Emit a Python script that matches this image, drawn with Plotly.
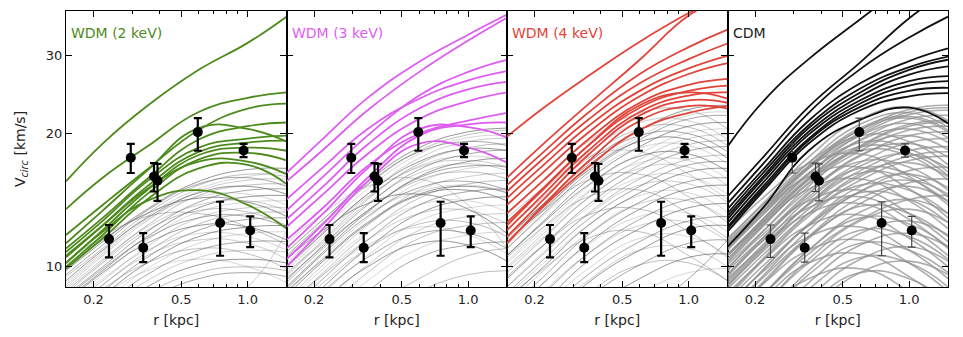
import numpy as np
import plotly.graph_objects as go

# radii (kpc) at which every model curve is sampled
radius = [0.15, 0.22, 0.35, 0.6, 1.0, 1.5]

# observed dwarf: radius, v_circ, upper / lower error
obs_r = [0.235, 0.295, 0.336, 0.376, 0.39, 0.594, 0.75, 0.958, 1.027]
obs_v = [11.55, 17.65, 11.04, 16.0, 15.65, 20.17, 12.56, 18.33, 12.08]
obs_err_hi = [0.88, 1.32, 0.88, 1.16, 1.45, 1.53, 1.47, 0.64, 0.92]
obs_err_lo = [1.05, 1.35, 0.79, 1.20, 1.55, 1.87, 1.97, 0.63, 1.00]

panel_labels = ["WDM (2 keV)", "WDM (3 keV)", "WDM (4 keV)", "CDM"]

wdm2_bright = [
    [15.6, 19.0, 23.1, 27.9, 32.1, 36.8],
    [13.5, 15.9, 18.7, 22.4, 24.1, 24.8],
    [11.8, 13.8, 16.6, 20.4, 22.8, 23.4],
    [11.0, 12.9, 15.8, 19.4, 20.8, 21.2],
    [11.3, 13.4, 16.5, 20.6, 20.5, 19.2],
    [10.8, 12.7, 15.6, 18.6, 19.5, 19.8],
    [10.5, 12.4, 15.2, 18.2, 19.1, 19.3],
    [10.2, 12.1, 14.9, 17.9, 18.6, 18.3],
    [10.0, 11.8, 14.6, 17.5, 18.1, 17.4],
    [10.6, 12.4, 15.0, 17.3, 17.3, 16.2],
    [9.9, 11.6, 14.2, 16.7, 17.0, 15.4],
    [10.2, 12.0, 14.1, 14.9, 13.8, 12.2],
]
wdm2_faint = [
    [9.8, 11.4, 13.5, 15.6, 16.6, 16.7],
    [9.5, 11.0, 13.2, 15.3, 16.2, 16.0],
    [9.2, 10.8, 13.0, 15.0, 16.0, 16.4],
    [9.6, 11.2, 13.4, 15.4, 15.9, 15.2],
    [9.0, 10.6, 12.7, 14.8, 15.7, 15.8],
    [9.3, 10.9, 12.9, 14.7, 15.2, 14.6],
    [8.8, 10.3, 12.4, 14.5, 15.3, 15.4],
    [9.1, 10.7, 12.8, 14.4, 14.6, 13.8],
    [8.6, 10.0, 12.0, 14.0, 14.9, 15.0],
    [8.9, 10.4, 12.3, 13.8, 14.1, 13.4],
    [8.4, 9.8, 11.7, 13.6, 14.4, 14.5],
    [8.7, 10.2, 12.1, 13.4, 13.3, 12.4],
    [8.2, 9.6, 11.5, 13.3, 14.0, 14.1],
    [8.5, 9.9, 11.6, 12.9, 13.0, 12.3],
    [8.0, 9.3, 11.1, 12.9, 13.6, 13.6],
    [8.3, 9.7, 11.3, 12.4, 12.3, 11.5],
    [7.8, 9.1, 10.8, 12.5, 13.2, 13.3],
    [8.1, 9.4, 10.9, 11.9, 11.7, 10.9],
    [7.6, 8.8, 10.5, 12.1, 12.8, 12.9],
    [7.9, 9.1, 10.6, 11.5, 11.3, 10.4],
    [7.4, 8.6, 10.2, 11.7, 12.3, 12.4],
    [7.7, 8.9, 10.2, 11.0, 10.7, 9.9],
    [7.2, 8.3, 9.9, 11.3, 11.9, 12.0],
    [7.0, 8.1, 9.6, 10.9, 11.4, 11.4],
    [6.8, 7.9, 9.3, 10.5, 10.9, 10.8],
    [6.6, 7.6, 9.0, 10.1, 10.4, 10.2],
    [6.4, 7.4, 8.7, 9.7, 10.0, 9.8],
    [7.5, 8.6, 9.8, 10.4, 10.0, 9.2],
    [6.2, 7.2, 8.4, 9.4, 9.7, 9.5],
    [5.5, 6.2, 7.0, 7.8, 9.0, 12.0],
    [9.9, 11.5, 13.2, 14.3, 14.0, 13.0],
    [10.2, 11.7, 13.0, 13.2, 12.3, 11.2],
]

wdm3_bright = [
    [16.3, 19.5, 24.1, 29.1, 33.5, 37.2],
    [15.6, 18.4, 22.6, 27.6, 32.5, 36.6],
    [13.4, 16.0, 19.8, 24.4, 27.6, 29.4],
    [14.2, 16.8, 20.5, 24.0, 26.4, 27.7],
    [12.8, 15.2, 18.9, 22.8, 25.2, 26.2],
    [12.3, 14.6, 18.0, 21.6, 23.7, 24.8],
    [11.5, 13.6, 16.9, 20.0, 21.4, 22.3],
    [11.0, 13.2, 16.7, 20.5, 20.7, 19.6],
    [10.0, 12.2, 15.6, 19.0, 18.6, 17.2],
    [10.4, 12.5, 15.9, 19.8, 21.0, 21.2],
]
wdm3_faint = [
    [10.8, 12.8, 15.6, 18.6, 20.2, 20.6],
    [10.5, 12.5, 15.3, 18.3, 19.9, 20.4],
    [10.2, 12.2, 15.0, 18.0, 19.6, 19.8],
    [10.6, 12.6, 15.4, 18.2, 19.2, 18.8],
    [9.9, 11.9, 14.6, 17.6, 19.2, 19.5],
    [10.0, 11.9, 14.6, 17.3, 18.5, 18.3],
    [9.6, 11.5, 14.2, 17.1, 18.6, 19.0],
    [9.8, 11.7, 14.3, 16.9, 17.8, 17.3],
    [9.3, 11.2, 13.8, 16.6, 18.0, 18.4],
    [9.5, 11.4, 13.9, 16.3, 17.1, 16.5],
    [9.0, 10.8, 13.3, 16.0, 17.3, 17.6],
    [9.2, 11.0, 13.4, 15.7, 16.4, 15.8],
    [8.7, 10.5, 12.9, 15.5, 16.7, 17.0],
    [8.9, 10.7, 13.0, 15.1, 15.6, 14.9],
    [8.4, 10.1, 12.4, 14.9, 16.0, 16.3],
    [8.6, 10.3, 12.5, 14.5, 14.9, 14.1],
    [8.1, 9.7, 11.9, 14.3, 15.4, 15.7],
    [8.3, 9.9, 12.0, 13.8, 14.1, 13.3],
    [7.8, 9.4, 11.5, 13.8, 14.8, 15.0],
    [8.0, 9.6, 11.5, 13.2, 13.4, 12.5],
    [7.5, 9.0, 11.0, 13.2, 14.2, 14.4],
    [7.7, 9.2, 11.0, 12.5, 12.6, 11.7],
    [7.2, 8.7, 10.6, 12.7, 13.6, 13.8],
    [7.4, 8.8, 10.5, 11.9, 11.9, 11.0],
    [6.9, 8.3, 10.1, 12.1, 13.0, 13.2],
    [7.1, 8.4, 10.0, 11.3, 11.2, 10.3],
    [6.6, 7.9, 9.7, 11.6, 12.4, 12.6],
    [6.3, 7.6, 9.3, 11.0, 11.8, 12.0],
    [6.0, 7.2, 8.8, 10.5, 11.2, 11.4],
    [11.3, 13.2, 15.2, 15.8, 13.8, 11.0],
    [10.4, 12.1, 13.9, 14.6, 13.5, 11.9],
    [5.8, 6.8, 8.0, 9.4, 10.6, 11.0],
    [9.7, 11.3, 13.2, 14.8, 15.3, 14.8],
    [9.4, 11.1, 13.4, 15.9, 16.9, 16.8],
    [10.1, 12.0, 14.4, 16.8, 17.4, 16.8],
    [8.8, 10.4, 12.6, 14.6, 15.2, 14.7],
    [5.6, 6.5, 7.6, 8.8, 9.6, 9.8],
    [8.2, 9.6, 11.2, 12.3, 11.8, 10.7],
]

wdm4_bright = [
    [19.7, 22.9, 27.0, 32.3, 37.5, 41.5],
    [15.9, 19.0, 23.3, 29.4, 37.0, 41.0],
    [15.3, 18.2, 22.3, 27.3, 31.4, 34.4],
    [14.8, 17.6, 21.5, 26.0, 29.5, 32.0],
    [14.3, 17.0, 20.8, 25.0, 28.1, 30.0],
    [13.8, 16.4, 20.1, 24.3, 27.3, 28.9],
    [13.2, 15.7, 19.4, 23.5, 25.8, 26.6],
    [12.6, 15.1, 18.8, 22.9, 25.0, 25.7],
    [12.1, 14.6, 18.3, 22.4, 24.4, 24.8],
    [11.7, 14.2, 17.9, 22.0, 23.8, 23.5],
    [11.3, 13.8, 17.3, 21.4, 23.1, 22.8],
    [11.3, 13.7, 16.8, 20.4, 22.3, 23.1],
    [12.4, 15.0, 18.8, 23.2, 24.8, 24.0],
]
wdm4_faint = [
    [11.6, 13.9, 17.2, 20.4, 22.7, 23.2],
    [13.2, 15.7, 19.2, 22.3, 22.6, 20.5],
    [11.2, 13.4, 16.6, 19.7, 22.0, 22.4],
    [11.0, 13.2, 16.3, 19.4, 21.6, 22.0],
    [12.5, 14.9, 18.1, 21.2, 21.4, 19.4],
    [10.6, 12.7, 15.7, 18.7, 20.8, 21.2],
    [12.1, 14.4, 17.6, 20.5, 20.7, 18.8],
    [10.3, 12.3, 15.2, 18.0, 20.1, 20.5],
    [11.7, 13.9, 17.0, 19.8, 20.0, 18.2],
    [10.0, 11.9, 14.7, 17.5, 19.5, 19.9],
    [11.4, 13.5, 16.5, 19.2, 19.4, 17.6],
    [9.7, 11.6, 14.3, 17.0, 18.9, 19.3],
    [11.0, 13.1, 16.0, 18.6, 18.8, 17.1],
    [9.4, 11.2, 13.8, 16.5, 18.3, 18.7],
    [12.9, 15.1, 17.7, 18.2, 16.2, 14.2],
    [10.6, 12.6, 15.3, 17.8, 18.0, 16.4],
    [9.0, 10.7, 13.2, 15.8, 17.5, 17.9],
    [10.2, 12.1, 14.8, 17.2, 17.4, 15.8],
    [8.7, 10.4, 12.8, 15.2, 17.0, 17.3],
    [9.9, 11.7, 14.3, 16.7, 16.8, 15.3],
    [8.4, 10.0, 12.4, 14.7, 16.4, 16.7],
    [11.5, 13.4, 15.7, 16.2, 14.4, 12.6],
    [9.4, 11.2, 13.6, 15.9, 16.0, 14.6],
    [8.0, 9.5, 11.8, 14.0, 15.6, 15.9],
    [9.0, 10.8, 13.1, 15.3, 15.4, 14.0],
    [7.7, 9.2, 11.3, 13.5, 15.0, 15.3],
    [10.5, 12.3, 14.4, 14.9, 13.2, 11.6],
    [8.6, 10.2, 12.4, 14.5, 14.7, 13.3],
    [7.3, 8.7, 10.7, 12.8, 14.2, 14.5],
    [8.2, 9.8, 11.9, 13.9, 14.1, 12.8],
    [7.0, 8.3, 10.3, 12.2, 13.6, 13.9],
    [9.5, 11.2, 13.1, 13.5, 12.0, 10.5],
    [7.7, 9.2, 11.2, 13.0, 13.2, 12.0],
    [6.5, 7.8, 9.6, 11.4, 12.7, 13.0],
    [7.4, 8.8, 10.7, 12.4, 12.6, 11.4],
    [6.2, 7.4, 9.2, 10.9, 12.2, 12.4],
    [8.5, 9.9, 11.6, 12.0, 10.6, 9.3],
    [6.8, 8.1, 9.9, 11.6, 11.7, 10.6],
    [5.8, 6.9, 8.5, 10.1, 11.3, 11.5],
    [6.4, 7.7, 9.3, 10.9, 11.0, 10.0],
    [5.4, 6.4, 7.9, 9.4, 10.5, 10.7],
    [6.0, 7.1, 8.7, 10.1, 10.2, 9.3],
    [5.0, 5.9, 7.3, 8.7, 9.7, 9.9],
    [5.0, 5.6, 6.5, 7.8, 9.4, 11.5],
]

cdm_bright = [
    [18.7, 23.8, 29.5, 36.3, 44.0, 50.0],
    [14.4, 17.8, 23.0, 29.0, 36.5, 42.0],
    [13.9, 17.2, 22.3, 28.0, 33.0, 36.8],
    [13.5, 16.7, 21.4, 26.0, 29.2, 31.2],
    [13.2, 16.4, 20.9, 25.3, 28.3, 29.9],
    [13.0, 16.1, 20.6, 24.8, 27.9, 29.4],
    [12.8, 15.9, 20.2, 24.3, 27.2, 28.4],
    [12.55, 15.6, 19.9, 23.8, 26.3, 27.0],
    [12.3, 15.3, 19.5, 23.4, 25.7, 26.3],
    [12.2, 15.1, 19.3, 23.0, 25.0, 25.4],
    [12.0, 14.9, 19.0, 22.6, 24.3, 24.7],
    [11.1, 13.7, 18.3, 21.5, 22.9, 21.1],
]
cdm_faint = [
    [11.6, 13.9, 17.2, 20.4, 22.7, 23.2],
    [11.5, 14.0, 17.7, 21.6, 23.0, 21.4],
    [11.3, 13.6, 16.7, 19.9, 22.1, 22.6],
    [11.2, 13.6, 17.2, 21.0, 22.3, 20.7],
    [11.0, 13.2, 16.3, 19.4, 21.6, 22.0],
    [10.9, 13.2, 16.7, 20.4, 21.7, 20.2],
    [10.7, 12.8, 15.8, 18.8, 21.0, 21.4],
    [10.6, 12.9, 16.2, 19.8, 21.1, 19.6],
    [10.4, 12.5, 15.4, 18.3, 20.4, 20.8],
    [10.3, 12.5, 15.8, 19.3, 20.5, 19.1],
    [10.1, 12.1, 14.9, 17.8, 19.8, 20.2],
    [11.0, 13.4, 16.8, 19.8, 19.2, 17.0],
    [9.9, 12.1, 15.2, 18.6, 19.8, 18.4],
    [9.8, 11.7, 14.4, 17.2, 19.1, 19.5],
    [10.6, 12.9, 16.2, 19.1, 18.5, 16.4],
    [9.5, 11.6, 14.6, 17.9, 19.0, 17.7],
    [9.4, 11.2, 13.8, 16.5, 18.3, 18.7],
    [10.2, 12.4, 15.5, 18.3, 17.8, 15.7],
    [12.0, 14.4, 17.1, 18.0, 16.0, 13.8],
    [9.0, 11.0, 13.9, 16.9, 18.0, 16.7],
    [8.9, 10.7, 13.2, 15.7, 17.4, 17.8],
    [9.6, 11.7, 14.7, 17.3, 16.8, 14.9],
    [8.6, 10.5, 13.2, 16.2, 17.2, 16.0],
    [11.2, 13.4, 16.0, 16.8, 15.0, 12.9],
    [8.4, 10.1, 12.4, 14.8, 16.5, 16.8],
    [9.1, 11.1, 13.9, 16.3, 15.8, 14.0],
    [8.1, 9.9, 12.5, 15.2, 16.2, 15.1],
    [10.6, 12.6, 15.0, 15.8, 14.1, 12.2],
    [7.9, 9.5, 11.7, 13.9, 15.5, 15.8],
    [8.5, 10.4, 13.0, 15.3, 14.9, 13.2],
    [7.6, 9.3, 11.7, 14.3, 15.2, 14.1],
    [9.9, 11.9, 14.1, 14.9, 13.2, 11.4],
    [8.1, 9.9, 12.4, 14.7, 14.2, 12.6],
    [7.3, 8.7, 10.7, 12.8, 14.2, 14.5],
    [7.1, 8.7, 10.9, 13.3, 14.2, 13.2],
    [9.2, 11.1, 13.2, 13.9, 12.3, 10.6],
    [7.6, 9.2, 11.6, 13.7, 13.2, 11.7],
    [6.8, 8.2, 10.4, 12.7, 13.5, 12.6],
    [8.7, 10.4, 12.4, 13.1, 11.6, 10.0],
    [7.2, 8.7, 10.9, 12.9, 12.5, 11.1],
    [6.4, 7.7, 9.8, 11.9, 12.7, 11.8],
    [8.2, 9.8, 11.7, 12.3, 10.9, 9.4],
    [6.7, 8.2, 10.2, 12.1, 11.7, 10.4],
    [6.0, 7.3, 9.2, 11.2, 11.9, 11.1],
    [7.7, 9.2, 10.9, 11.5, 10.2, 8.8],
    [6.3, 7.6, 9.6, 11.3, 10.9, 9.7],
    [5.6, 6.8, 8.5, 10.4, 11.1, 10.3],
    [7.1, 8.5, 10.2, 10.7, 9.5, 8.2],
    [5.8, 7.1, 8.9, 10.5, 10.2, 9.0],
    [5.2, 6.3, 7.9, 9.7, 10.3, 9.6],
    [6.6, 7.9, 9.4, 9.9, 8.8, 7.6],
    [5.4, 6.6, 8.2, 9.7, 9.4, 8.3],
    [11.4, 13.7, 16.9, 20.1, 22.4, 22.9],
    [11.0, 13.4, 16.9, 20.6, 21.9, 20.4],
    [10.6, 12.7, 15.7, 18.7, 20.8, 21.2],
    [10.4, 12.7, 15.9, 18.7, 18.1, 16.1],
    [9.1, 10.9, 13.5, 16.0, 17.8, 18.2],
    [9.3, 11.3, 14.2, 16.7, 16.2, 14.4],
    [7.9, 9.6, 12.1, 14.8, 15.7, 14.6],
    [9.6, 11.5, 13.6, 14.4, 12.8, 11.0],
]

panels = [
    (wdm2_bright, wdm2_faint, "#4d8a1c"),
    (wdm3_bright, wdm3_faint, "#de5cf2"),
    (wdm4_bright, wdm4_faint, "#e0443a"),
    (cdm_bright, cdm_faint, "#111111"),
]

fig = go.Figure()
font = "DejaVu Sans, Verdana, sans-serif"
faint_alpha = [0.65, 0.4, 0.25, 0.55, 0.32]

for i, (bright, faint, colour) in enumerate(panels):
    xa = "x" if i == 0 else f"x{i+1}"
    ya = "y" if i == 0 else f"y{i+1}"
    cdm = i == 3
    for j, v in enumerate(faint):
        if cdm:
            col, w = "rgba(145,145,145,0.75)", 1.6
        else:
            col, w = f"rgba(95,95,95,{faint_alpha[j % 5]})", 1.0
        fig.add_trace(go.Scatter(x=radius, y=v, mode="lines", xaxis=xa, yaxis=ya,
                                 line=dict(color=col, width=w, shape="spline", smoothing=1.3),
                                 hoverinfo="skip", showlegend=False))
    for v in bright:
        fig.add_trace(go.Scatter(x=radius, y=v, mode="lines", xaxis=xa, yaxis=ya,
                                 line=dict(color=colour, width=1.8, shape="spline", smoothing=1.3),
                                 showlegend=False))
    fig.add_trace(go.Scatter(
        x=obs_r, y=obs_v, mode="markers", xaxis=xa, yaxis=ya, showlegend=False,
        marker=dict(color="black", size=10, symbol="circle"),
        error_y=dict(type="data", symmetric=False, array=obs_err_hi, arrayminus=obs_err_lo,
                     color="#444444" if cdm else "black",
                     thickness=1.2 if cdm else 2.2, width=4)))

    fig.add_annotation(text=panel_labels[i], xref=f"{xa} domain", yref=f"{ya} domain",
                       x=0.015, y=0.955, xanchor="left", yanchor="top", showarrow=False,
                       font=dict(family=font, size=14, color=colour if not cdm else "#222222"))

axis_common = dict(showline=True, linecolor="black", linewidth=1.3, mirror="allticks",
                   ticks="inside", tickcolor="black", showgrid=False, zeroline=False,
                   automargin=False,
                   tickfont=dict(family=font, size=13, color="#222222"))

for i in range(4):
    xkey = "xaxis" if i == 0 else f"xaxis{i+1}"
    ykey = "yaxis" if i == 0 else f"yaxis{i+1}"
    fig.update_layout({
        xkey: dict(axis_common, type="log", domain=[i * 0.25, (i + 1) * 0.25],
                   anchor="y" if i == 0 else f"y{i+1}",
                   range=[np.log10(0.15), np.log10(1.5)],
                   tickmode="array", tickvals=[0.2, 0.5, 1.0], ticktext=["0.2", "0.5", "1.0"],
                   ticklen=6,
                   minor=dict(ticks="inside", ticklen=3, tickcolor="black",
                              tickvals=[0.3, 0.4, 0.6, 0.7, 0.8, 0.9]),
                   title=dict(text="r [kpc]", standoff=9,
                              font=dict(family=font, size=14, color="#222222"))),
        ykey: dict(axis_common, type="log", domain=[0, 1],
                   anchor="x" if i == 0 else f"x{i+1}",
                   range=[np.log10(9.0), np.log10(37.9)],
                   tickmode="array", tickvals=[10, 20, 30], ticklen=6,
                   showticklabels=(i == 0)),
    })

# the page body adds an 8px offset, so the figure is 8px smaller than the window
fig.update_layout(
    yaxis_title=dict(text="V<sub><i>circ</i></sub> [km/s]", standoff=16,
                     font=dict(family=font, size=14, color="#222222")),
    width=955, height=329,
    margin=dict(l=58, r=15, t=3, b=50),
    plot_bgcolor="white", paper_bgcolor="white",
    font=dict(family=font),
)

fig.write_html("out.html")
